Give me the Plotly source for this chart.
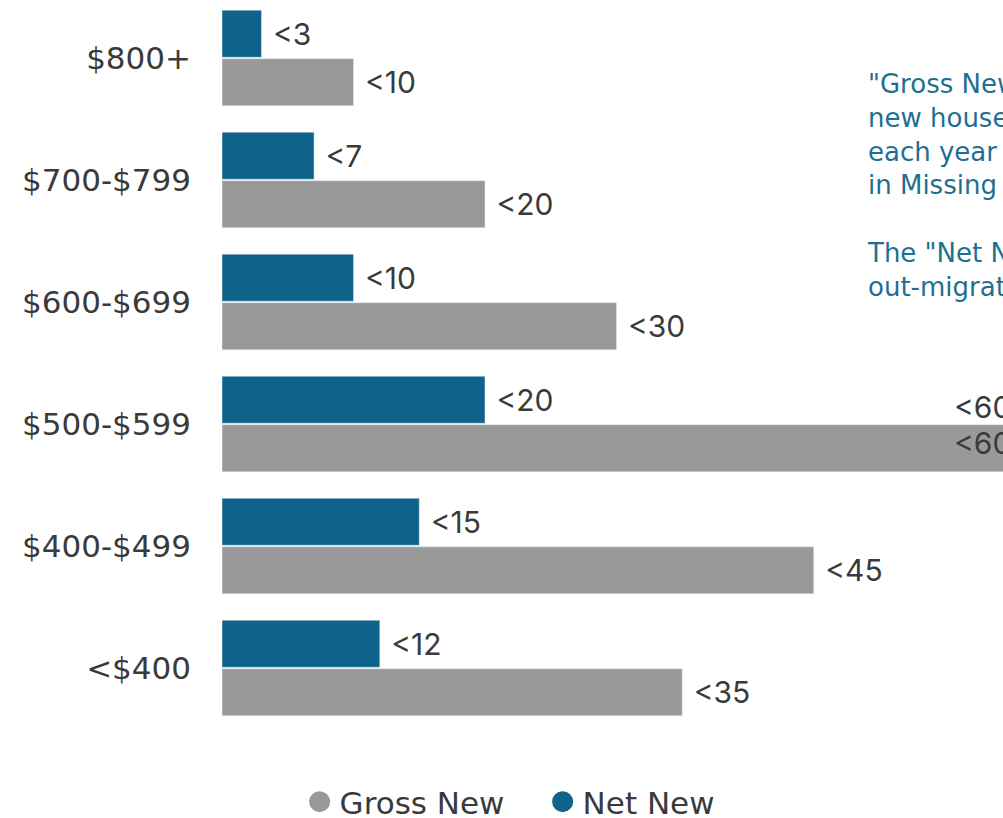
import plotly.graph_objects as go

# Rent bands, listed bottom-to-top as Plotly stacks categories upward
categories = ["<$400", "$400-$499", "$500-$599", "$600-$699", "$700-$799", "$800+"]
gross_new = [35, 45, 60, 30, 20, 10]
net_new = [12, 15, 20, 10, 7, 3]

GRAY = "#999999"
BLUE = "#0f628a"
TEXT = "#3a3a3a"
TEAL = "#1e6f91"
FONT = "DejaVu Sans"
VAL_FONT = "Inter"

W, H = 1003, 818
LEFT, BOTTOM = 222, 78
PLOT_W, PLOT_H = W - LEFT, H - BOTTOM
PX_PER_UNIT = 13.15
x_max = PLOT_W / PX_PER_UNIT

NB = "\u00a0"


def labels(vals, skip_over=None):
    out = []
    for v in vals:
        if skip_over is not None and v > skip_over:
            out.append("")
        else:
            out.append(NB + "<" + str(v))
    return out


fig = go.Figure()

fig.add_trace(go.Bar(
    y=categories, x=gross_new, orientation="h", name="Gross New",
    marker=dict(color=GRAY), showlegend=False,
    text=labels(gross_new, skip_over=x_max), textposition="outside",
    textfont=dict(family=VAL_FONT, size=30, color=TEXT), cliponaxis=False,
    hoverinfo="skip",
))
fig.add_trace(go.Bar(
    y=categories, x=net_new, orientation="h", name="Net New",
    marker=dict(color=BLUE), showlegend=False,
    text=labels(net_new), textposition="outside",
    textfont=dict(family=VAL_FONT, size=30, color=TEXT), cliponaxis=False,
    hoverinfo="skip",
))

# Legend entries drawn as round markers
for name, col in (("Gross New", GRAY), ("Net New", BLUE)):
    fig.add_trace(go.Scatter(
        x=[None], y=[None], mode="markers", name=name,
        marker=dict(color=col, size=18, symbol="circle", line=dict(color=col, width=5)),
        showlegend=True,
    ))

# Labels for the bar that runs past the right edge
big = gross_new.index(max(gross_new))
x_lab = (952 - LEFT) / PX_PER_UNIT
for dy in (0.139, -0.156):
    fig.add_annotation(
        x=x_lab, y=big + dy, xref="x", yref="y", xanchor="left", yanchor="middle",
        text="<" + str(gross_new[big]), showarrow=False,
        font=dict(family=VAL_FONT, size=30, color=TEXT),
    )

note = ('"Gross New" is the number of<br>new households formed<br>each year that could live<br>'
        'in Missing Middle housing.<br><br>The "Net New" accounts for<br>out-migration.')
fig.add_annotation(
    x=(865 - LEFT) / PLOT_W, y=1 - 67 / PLOT_H, xref="paper", yref="paper",
    xanchor="left", yanchor="top", align="left", showarrow=False,
    text=note, font=dict(family=FONT, size=26, color=TEAL),
)

fig.update_layout(
    width=W, height=H,
    margin=dict(l=LEFT, r=0, t=0, b=BOTTOM, pad=0),
    paper_bgcolor="white", plot_bgcolor="white",
    barmode="group", bargap=0.205, bargroupgap=0.03,
    xaxis=dict(range=[0, x_max], visible=False, fixedrange=True),
    yaxis=dict(
        type="category", categoryorder="array", categoryarray=categories,
        range=[-0.59, 5.475], showgrid=False, showline=False, zeroline=False,
        ticks="", ticklabelstandoff=30,
        tickfont=dict(family=FONT, size=31, color=TEXT),
    ),
    legend=dict(
        orientation="h", xref="container", yref="container",
        x=0.541, xanchor="center", y=1 - 802 / H, yanchor="middle",
        font=dict(family=FONT, size=31, color=TEXT), itemsizing="trace",
        entrywidth=198, entrywidthmode="pixels",
    ),
    showlegend=True,
)

fig.write_html("out.html")
